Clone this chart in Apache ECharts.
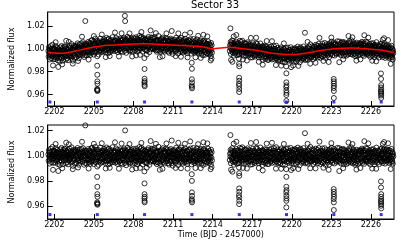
<!DOCTYPE html>
<html><head><meta charset="utf-8">
<script src="https://cdn.jsdelivr.net/npm/echarts@6/dist/echarts.min.js"></script>
<style>html,body{margin:0;padding:0;background:#fff}#c{width:407px;height:244px}</style>
</head><body><div id="c"></div>
<script>
const titleText = 'Sector 33';
const xName = 'Time (BJD - 2457000)';
const yName = 'Normalized flux';
const xTicks = [2202, 2205, 2208, 2211, 2214, 2217, 2220, 2223, 2226];
const yTicks = [0.96, 0.98, 1.00, 1.02];

// detrended flux residuals, units of 1e-4, at the observing cadence
const seg1Start = 2201.55;
const seg2Start = 2215.30;
const cadence = 0.0207;
const seg1Resid = [
12,-38,45,-7,23,-61,30,5,-22,57,-14,-49,8,36,-3,71,-28,16,-55,40,
-18,42,-6,29,-53,14,-33,61,-2,-40,25,-12,48,-27,9,-64,36,-15,20,-45,
-9,27,-73,4,52,-31,18,-12,63,-44,0,33,-20,-66,47,11,-36,24,-5,58,
53,-8,-30,17,-59,40,-21,6,33,-49,22,-4,-67,45,-13,28,-38,11,58,-24,
-27,39,-15,2,-52,68,-8,21,-41,14,-79,35,6,-18,49,-33,28,-60,9,43,
-1,35,-56,19,-9,47,-28,63,-42,7,-17,31,-70,24,-35,52,3,-46,15,-11,
-11,55,-24,31,-4,-47,17,62,-35,3,26,-70,42,-16,7,-57,38,-2,19,-29,
39,-60,26,-19,5,-37,55,-26,12,-51,44,-7,-32,21,-63,37,-14,60,-44,2,
64,-43,10,-21,34,-6,-65,50,13,-38,25,-13,72,-50,1,29,-26,46,-9,-84,
-23,50,-9,34,-71,18,-3,-41,29,-16,66,-34,8,-54,23,-25,42,-10,-48,30,
37,-19,15,-45,56,-1,22,-34,44,-58,8,30,-10,67,-40,20,-23,-3,53,-68,
16,-39,57,-22,1,-61,38,-6,25,-47,13,45,-31,4,-19,69,-50,27,-12,-36,
26,-14,41,-32,5,-53,32,-7,60,-25,11,-46,18,-63,48,-17,35,-4,-39,24,
-45,20,-14,52,-28,9,-58,33,-3,41,-24,15,-66,46,-18,6,-35,59,-7,26,
-56,9,45,-28,14,-74,39,-12,28,-37,65,-21,2,51,-48,16,-30,7,-62,33,
32,-53,11,-29,48,-15,-2,37,-62,19,-40,56,-9,28,-21,-5,43,-57,14,-33,
-6,58,-42,19,-15,43,-67,25,-2,36,-51,12,-27,70,-35,4,23,-44,54,-11,
-12,64,-37,3,-26,45,-68,22,-8,51,-30,10,36,-49,17,-20,40,-11,-55,31,
31,-59,8,-20,47,-8,-36,62,-24,17,-71,29,-13,40,-46,21,-1,57,-31,6,
7,-34,54,-43,18,-1,-27,47,-16,62,-39,13,-6,-52,29,-23,38,-65,24,2,
-49,34,-18,73,-26,3,-54,42,-9,27,-64,15,38,-41,10,-22,50,-33,-5,61,
-50,27,-10,41,-31,15,-60,36,-4,23,-46,57,-17,8,-38,49,-25,-1,33,-58,
-16,24,-69,46,-3,30,-45,13,55,-37,1,-58,36,-12,20,-77,44,-23,9,-40,
21,-13,46,-36,6,-55,30,-19,65,-41,11,-8,27,-29,44,-72,17,-3,52,-22,
52,-7,28,-52,16,-30,66,-19,4,-43,39,-2,-61,25,-15,48,-28,11,-50,35,
-37,59,-15,24,-48,3,39,-26,12,-63,35,-7,-20,50,-42,16,-10,43,-31,9,
-21,59,-35,7,-66,22,41,-11,-47,18,-24,63,-39,0,33,-55,14,-8,45,-32,
28,-45,5,-18,61,-34,20,-52,37,-2,-28,14,-60,46,-16,31,-39,7,55,-24,
10,-60,37,-17,26,-4,-72,49,-29,12,56,-42,6,-20,43,-63,21,-6,31,-48,
-6,34,-47,22,-13,58,-30,1,-54,40,-21,26,-9,-43,18,-67,49,-14,30,-35];
const seg2Resid = [
-33,18,-5,47,-58,24,-14,39,-27,61,-9,-44,30,-19,8,-70,42,-3,22,-51,
25,-41,9,-16,54,-29,36,-62,14,-5,43,-34,20,-57,31,-11,-48,65,-22,6,
35,-12,56,-38,4,-23,68,-46,15,-7,29,-62,11,-31,50,-16,-1,44,-54,20,
-14,48,-37,2,-25,60,-18,33,-53,11,-40,27,-8,46,-30,19,-69,38,-3,-45,
-25,37,-67,13,-10,58,-34,26,-48,3,41,-20,-57,32,-6,17,-40,64,-15,9,
57,-20,13,-43,29,-6,-58,41,-15,24,-36,8,67,-27,16,-51,35,-12,-2,44,
-72,45,-28,21,-2,-50,36,-13,53,-35,7,-60,28,-18,48,-43,14,-4,33,-65,
-31,5,-64,37,-19,50,-9,22,-47,30,-4,-39,56,-23,10,-55,26,-13,40,-33,
19,-8,62,-30,1,-53,40,-21,25,-39,69,-11,-45,16,-26,51,-3,-59,34,-14,
3,-50,32,-16,45,-61,18,-28,7,59,-42,21,-10,34,-68,15,-24,49,-6,-37,
43,-37,10,-68,27,-5,55,-24,12,-47,31,-16,-2,60,-41,23,-55,6,38,-29,
-26,40,-11,63,-35,12,-57,28,-1,-44,47,-17,24,-31,4,-66,39,-20,53,-9,
-10,52,-32,18,-63,39,-7,24,-49,66,-19,2,-36,45,-12,29,-74,13,-27,57,
46,-15,30,-54,8,-25,36,-41,17,-3,62,-48,13,-33,26,-12,-59,42,-22,1,
-4,33,-52,20,-15,44,-61,9,37,-23,-1,54,-42,16,-30,71,-8,-46,26,-17,
-43,19,-7,52,-32,23,-63,9,-18,44,-28,3,-50,34,-14,58,-36,21,-5,-40,
48,-34,5,-57,30,-11,63,-26,14,-40,22,-3,-64,41,-20,35,-50,11,-6,59,
14,-56,38,-9,27,-45,6,-21,61,-30,16,-71,29,-2,-35,47,-19,11,-52,32,
-38,17,-13,46,-69,28,-24,53,-9,1,-44,37,-18,65,-33,8,-55,25,-2,42,
-17,55,-24,8,-60,33,-11,43,-38,20,-4,-47,25,-15,64,-29,2,-42,37,-8,
-21,61,-47,12,-28,34,-5,-60,49,-15,27,-36,4,56,-43,19,-12,40,-66,23,
51,-33,18,-49,4,-22,39,-65,22,-6,30,-37,11,-55,45,-18,7,-26,59,-43,
-7,45,-31,15,-52,68,-19,3,-39,31,-58,21,-10,50,-25,-1,36,-48,13,-70,
-2,28,-58,35,-14,49,-27,15,-41,3,-62,24,-9,41,-31,13,-53,36,-20,47,
39,-16,26,-42,58,-8,-55,32,-22,47,-35,6,-63,24,-14,43,-29,10,62,-45,
-35,10,-23,57,-46,19,-8,32,-17,-56,26,-3,44,-39,14,-68,31,-12,50,-28,
-3,29,-51,17,-18,54,-37,0,35,-67,20,-26,41,-9,-48,27,-13,66,-32,7,
23,-52,6,-30,42,-13,27,-64,35,-7,-21,53,-33,9,-45,18,-1,60,-40,12,
-56,38,-11,49,-24,14,-41,57,-6,-61,30,-20,44,-34,2,52,-46,18,-28,36,
-24,37,-16,48,-57,4,-35,25,-10,-49,39,-19,56,-26,1,-44,29,-61,15,-6];

// sparse points outside the dense band: [time, residual 1e-4]
const extraPoints = [
[2201.9,-110],[2202.3,-120],[2202.9,105],[2203.4,-105],[2204.1,112],[2204.35,242],
[2205.9,-100],[2206.6,108],[2207.35,248],[2207.37,202],[2207.9,-108],[2208.5,-95],
[2209.3,118],[2210.2,-102],[2210.9,122],[2211.6,-98],[2212.3,115],[2212.7,-96],
[2213.3,108],[2213.85,-105],[2213.92,-88],[2215.35,165],[2215.4,-110],[2215.5,-125],
[2215.8,112],[2216.6,-100],[2217.3,110],[2217.8,-115],[2218.5,104],[2219.2,-102],
[2219.95,-112],[2221.0,180],[2221.4,-98],[2222.1,113],[2222.8,-110],[2223.6,-120],
[2224.3,106],[2224.9,-108],[2225.5,117],[2226.1,-100],[2227.0,110],[2227.5,-104],
[2202.1,95],[2202.6,-98],[2203.1,92],[2203.8,-92],[2204.6,-100],[2205.0,96],[2205.6,100],
[2206.2,-94],[2206.9,-102],[2207.1,98],[2207.7,94],[2208.2,-99],[2208.6,103],[2209.0,-93],
[2209.7,96],[2210.0,-110],[2210.5,99],[2211.2,-95],[2211.4,104],[2211.9,97],[2212.1,-101],
[2212.9,93],[2213.1,-97],[2213.6,99],[2215.6,97],[2216.3,-95],[2216.9,102],[2217.5,-96],
[2218.1,98],[2218.8,-101],[2219.4,95],[2220.1,-97],[2220.5,-104],[2221.2,96],[2221.8,-99],
[2222.4,-94],[2223.0,101],[2223.9,-97],[2224.6,94],[2225.2,-96],[2225.8,99],[2226.4,-102],
[2226.9,96],[2227.3,100]];

// in-transit points (detrended flux)
const transitPoints = [
[2205.25,0.9834],[2205.26,0.9755],[2205.26,0.9697],[2205.27,0.9676],[2205.25,0.9632],[2205.26,0.9624],[2205.27,0.9613],[2205.26,0.9620],
[2208.83,0.9877],[2208.84,0.9782],[2208.84,0.9697],[2208.85,0.9676],[2208.83,0.9663],[2208.84,0.9644],[2208.85,0.9632],
[2212.42,0.9855],[2212.43,0.9802],[2212.43,0.9711],[2212.44,0.9684],[2212.42,0.9658],[2212.43,0.9645],[2212.44,0.9632],
[2216.00,0.9908],[2216.01,0.9863],[2216.02,0.9842],[2216.01,0.9742],[2216.02,0.9716],[2216.00,0.9689],[2216.01,0.9671],[2216.02,0.9644],[2216.01,0.9618],
[2219.58,0.9895],[2219.59,0.9834],[2219.59,0.9755],[2219.60,0.9729],[2219.58,0.9711],[2219.59,0.9684],[2219.60,0.9663],[2219.59,0.9644],[2219.59,0.9592],
[2223.18,0.9737],[2223.19,0.9716],[2223.19,0.9697],[2223.20,0.9676],[2223.18,0.9658],[2223.19,0.9632],[2223.19,0.9571],
[2226.76,0.9798],[2226.77,0.9750],[2226.78,0.9697],[2226.77,0.9676],[2226.78,0.9658],[2226.76,0.9644],[2226.77,0.9632],[2226.78,0.9618],[2226.77,0.9605],[2226.78,0.9584]];

// trend (red line) knots
const trendKnots = [
[2201.55,0.9968],[2202.0,0.9962],[2202.5,0.9960],[2203.0,0.9965],[2203.7,0.9982],[2204.3,0.9998],
[2204.9,1.0012],[2205.5,1.0022],[2206.1,1.0029],[2206.8,1.0034],[2207.4,1.0038],[2208.1,1.0041],
[2208.8,1.0042],[2209.5,1.0040],[2210.2,1.0036],[2210.9,1.0032],[2211.6,1.0028],[2212.3,1.0024],
[2213.0,1.0018],[2213.5,1.0010],[2213.95,1.0000],[2215.3,1.0013],[2215.9,1.0006],[2216.5,0.9998],
[2217.2,0.9988],[2217.8,0.9975],[2218.4,0.9963],[2219.0,0.9955],[2219.6,0.9950],[2220.2,0.9950],
[2220.8,0.9956],[2221.4,0.9967],[2222.0,0.9980],[2222.6,0.9991],[2223.2,0.9999],[2223.9,1.0004],
[2224.6,1.0005],[2225.3,1.0002],[2225.9,0.9997],[2226.5,0.9990],[2227.1,0.9980],[2227.72,0.9966]];

const transitTimes = [2201.67, 2205.26, 2208.84, 2212.43, 2216.02, 2219.60, 2223.19, 2226.78];
const markerLevel = 0.9535;

function trendAt(t) {
  const k = trendKnots;
  if (t <= k[0][0]) return k[0][1];
  for (let i = 1; i < k.length; i++) {
    if (t <= k[i][0]) {
      const f = (t - k[i-1][0]) / (k[i][0] - k[i-1][0]);
      return k[i-1][1] + f * (k[i][1] - k[i-1][1]);
    }
  }
  return k[k.length-1][1];
}

const detrended = [];
seg1Resid.forEach((r, i) => detrended.push([seg1Start + i * cadence, 1 + r / 1e4]));
seg2Resid.forEach((r, i) => detrended.push([seg2Start + i * cadence, 1 + r / 1e4]));
extraPoints.forEach(p => detrended.push([p[0], 1 + p[1] / 1e4]));
transitPoints.forEach(p => detrended.push([p[0], p[1]]));
const raw = detrended.map(p => [p[0], p[1] * trendAt(p[0])]);
const markers = transitTimes.map(t => [t, markerLevel]);

const FONT = 'DejaVu Sans';
function xAx(gi) {
  return {
    type: 'value', gridIndex: gi, min: 2201.5, max: 2227.75,
    name: gi === 1 ? xName : '', nameLocation: 'middle', nameGap: 12,
    nameTextStyle: {fontSize: 8, color: '#000', fontFamily: FONT},
    axisLine: {show: true, lineStyle: {color: '#000', width: 1}},
    axisTick: {show: true, inside: true, length: 5, customValues: xTicks, lineStyle: {color: '#000', width: 1}},
    axisLabel: {customValues: xTicks, margin: 2, fontSize: 8, color: '#000', fontFamily: FONT,
      formatter: v => String(v)},
    splitLine: {show: false}
  };
}
function yAx(gi, min, max) {
  return {
    type: 'value', gridIndex: gi, min: min, max: max,
    name: yName, nameLocation: 'middle', nameGap: 24,
    nameTextStyle: {fontSize: 8, color: '#000', fontFamily: FONT},
    axisLine: {show: true, lineStyle: {color: '#000', width: 1}},
    axisTick: {show: true, inside: true, length: 5, customValues: yTicks, lineStyle: {color: '#000', width: 1}},
    axisLabel: {customValues: yTicks, margin: 3, fontSize: 8, color: '#000', fontFamily: FONT,
      formatter: v => v.toFixed(2)},
    splitLine: {show: false}
  };
}
const circleStyle = {color: 'rgba(0,0,0,0)', borderColor: '#000', borderWidth: 1.0};

const chart = echarts.init(document.getElementById('c'), null, {renderer: 'canvas'});
chart.setOption({
  animation: false,
  backgroundColor: '#fff',
  title: {text: titleText, left: 215, top: 0, padding: 0, textAlign: 'center',
    textStyle: {fontSize: 10, fontWeight: 'normal', color: '#000', fontFamily: FONT}},
  grid: [
    {left: 36, top: 12, width: 358, height: 94, show: true, borderColor: '#000', borderWidth: 1},
    {left: 36, top: 125, width: 358, height: 94, show: true, borderColor: '#000', borderWidth: 1}
  ],
  xAxis: [xAx(0), xAx(1)],
  yAxis: [yAx(0, 0.95, 1.032), yAx(1, 0.95, 1.0245)],
  series: [
    {type: 'scatter', xAxisIndex: 0, yAxisIndex: 0, data: raw, symbol: 'circle', symbolSize: 5,
      itemStyle: circleStyle, silent: true, z: 2, large: false},
    {type: 'line', xAxisIndex: 0, yAxisIndex: 0, data: trendKnots, smooth: 0.3, showSymbol: false,
      lineStyle: {color: '#ff0000', width: 1.5}, silent: true, z: 3},
    {type: 'scatter', xAxisIndex: 0, yAxisIndex: 0, data: markers, symbol: 'rect', symbolSize: 3,
      itemStyle: {color: '#0000ff'}, silent: true, z: 4},
    {type: 'scatter', xAxisIndex: 1, yAxisIndex: 1, data: detrended, symbol: 'circle', symbolSize: 5,
      itemStyle: circleStyle, silent: true, z: 2, large: false},
    {type: 'scatter', xAxisIndex: 1, yAxisIndex: 1, data: markers, symbol: 'rect', symbolSize: 3,
      itemStyle: {color: '#0000ff'}, silent: true, z: 4}
  ]
});
</script></body></html>
